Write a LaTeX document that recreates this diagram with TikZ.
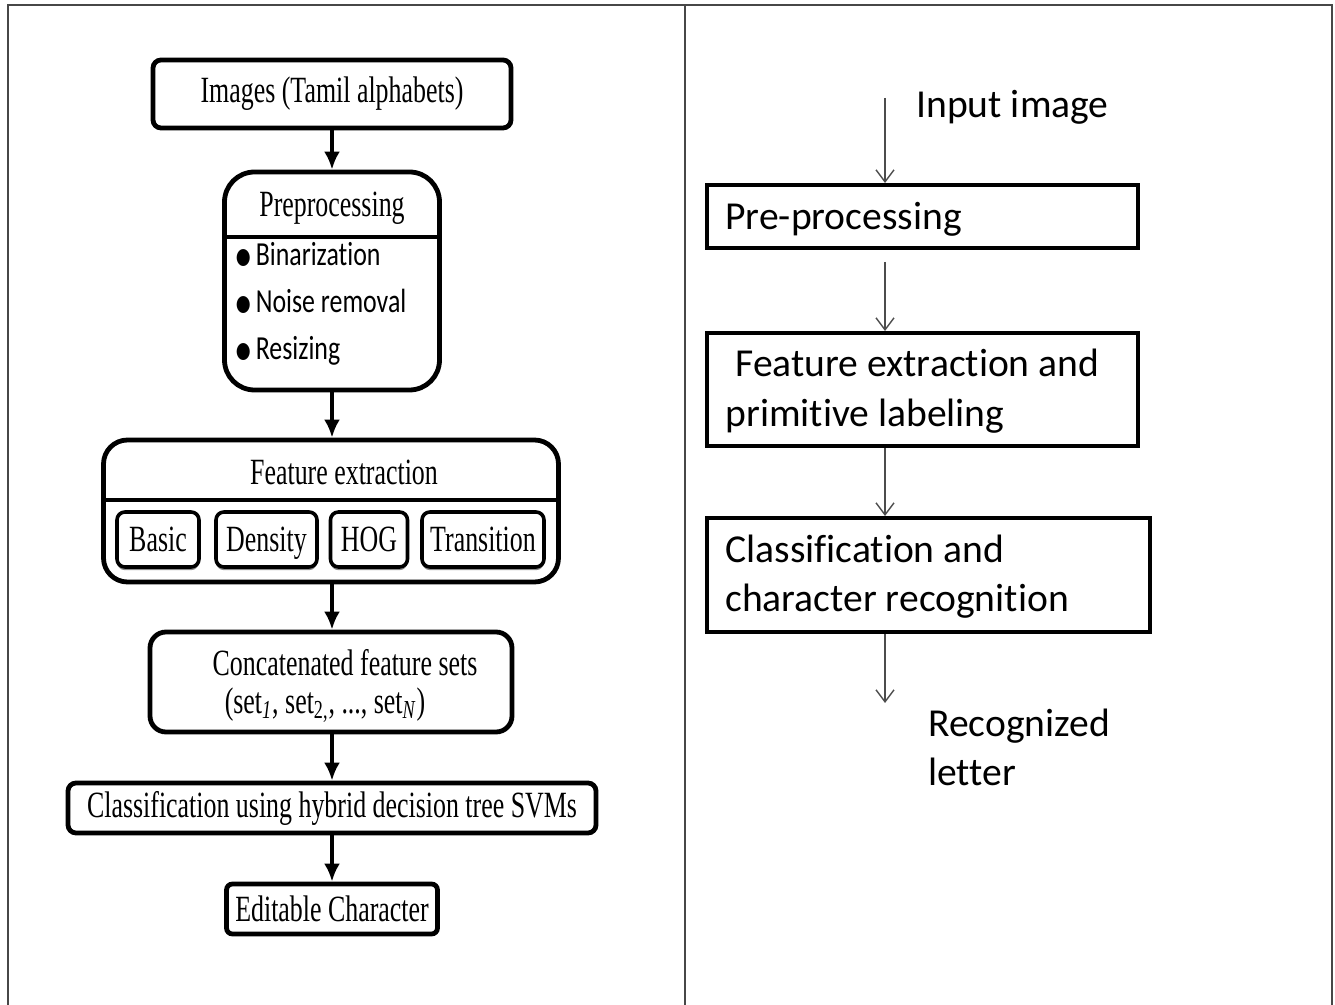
\documentclass[tikz,border=0pt]{standalone}
\usepackage{fontspec}
\setmainfont{Liberation Serif}
\newfontfamily\condserif[FakeStretch=0.7]{Liberation Serif}
\newfontfamily\condsans[FakeStretch=0.77,Ligatures=NoCommon]{Carlito}
\newfontfamily\rsans[Ligatures=NoCommon]{Carlito}
\newcommand\bigbul{\raisebox{-2.6pt}{\fontsize{24}{24}\selectfont\textbullet}\hspace{1.5pt}}
\usetikzlibrary{arrows.meta,shadows}
\begin{document}
\begin{tikzpicture}[x=0.5pt,y=-0.5pt,
  frame/.style={draw=black!72, line width=1.2pt},
  lbox/.style={draw, line width=2.4pt, rounded corners=4pt, inner sep=0pt},
  ltext/.style={inner sep=0pt, font=\condserif\fontsize{18.5}{21}\selectfont},
  ibox/.style={draw, fill=white, line width=1.8pt, rounded corners=4pt, inner sep=0pt,
    minimum height=27.5pt, text height=12.3pt, text depth=0pt,
    drop shadow={shadow xshift=0pt, shadow yshift=-1.6pt, opacity=0.45, fill=black},
    font=\condserif\fontsize{18.5}{21}\selectfont},
  bul/.style={inner sep=0pt, anchor=base west, font=\condsans\fontsize{16.8}{20}\selectfont},
  bigarrow/.style={line width=2pt, -{Latex[length=9pt,width=8pt]}},
  rbox/.style={draw, line width=2pt, inner sep=0pt},
  rtext/.style={inner sep=0pt, anchor=base west, font=\rsans\fontsize{19.8}{24}\selectfont},
  thinarrow/.style={draw=black!70, line width=0.7pt, -{Straight Barb[length=6pt,width=9pt]}}
]
\useasboundingbox (0,0) rectangle (1335,1005);
% outer frame
\draw[frame] (8,1005) -- (8,5) -- (1332,5) -- (1332,1005);
\draw[frame] (685,5) -- (685,1005);

% ---------- left flowchart ----------
\node[lbox, minimum width=179pt, minimum height=34pt, font=\condserif\fontsize{18.5}{21}\selectfont] (img) at (332,94) {Images (Tamil alphabets)};

\node[lbox, rounded corners=15pt, minimum width=107.5pt, minimum height=109pt] (pre) at (332,281) {};
\node[ltext] (pretitle) at (332,208) {Preprocessing};
\coordinate (pdiv) at (0,237);
\draw[line width=2.4pt] (pre.west |- pdiv) -- (pre.east |- pdiv);
\node[bul] (b1) at (234,266) {\bigbul Binarization};
\node[bul] (b2) at (234,313) {\bigbul Noise removal};
\node[bul] (b3) at (234,360) {\bigbul Resizing};

\node[lbox, rounded corners=12pt, minimum width=227.5pt, minimum height=71pt] (feat) at (331,511) {};
\node[ltext] (feattitle) at (344,472) {Feature extraction};
\coordinate (fdiv) at (0,500);
\draw[line width=2.4pt] (feat.west |- fdiv) -- (feat.east |- fdiv);
\node[ibox, minimum width=41pt] (basic) at (158,539.5) {Basic};
\node[ibox, minimum width=50.5pt] (dens) at (266.5,539.5) {Density};
\node[ibox, minimum width=38.5pt] (hog) at (369,539.5) {HOG};
\node[ibox, minimum width=61pt] (trans) at (483,539.5) {Transition};

\node[lbox, rounded corners=8pt, minimum width=181pt, minimum height=50pt] (conc) at (331,682) {};
\node[ltext] (conc1) at (345,663) {Concatenated feature sets};
\node[ltext] (conc2) at (325,705) {(set\textsubscript{\textit{1}}, set\textsubscript{2,}, ..., set\textsubscript{\textit{N}})};

\node[lbox, minimum width=264pt, minimum height=25pt, font=\condserif\fontsize{18.5}{21}\selectfont] (cls) at (332,808) {Classification using hybrid decision tree SVMs};
\node[lbox, rounded corners=3pt, minimum width=105.5pt, minimum height=25pt, font=\condserif\fontsize{18.5}{21}\selectfont] (edit) at (332,909) {Editable Character};

\draw[bigarrow] (img.south) -- (pre.north);
\draw[bigarrow] (pre.south) -- (pre.south |- feat.north);
\draw[bigarrow] (pre.south |- feat.south) -- (pre.south |- conc.north);
\draw[bigarrow] (pre.south |- conc.south) -- (cls.north);
\draw[bigarrow] (cls.south) -- (edit.north);

% ---------- right flowchart ----------
\node[rtext] (inp) at (916,118) {Input image};
\node[rbox, minimum width=215.5pt, minimum height=31.5pt] (pp) at (922.5,216.5) {};
\node[rtext] (pptext) at (725,230) {Pre-processing};
\node[rbox, minimum width=215.5pt, minimum height=56.5pt] (fe) at (922.5,389.5) {};
\node[rtext] (fe1) at (735,377) {Feature extraction and};
\node[rtext] (fe2) at (725,427) {primitive labeling};
\node[rbox, minimum width=221.5pt, minimum height=57pt] (cr) at (928.5,575) {};
\node[rtext] (cr1) at (725,563) {Classification and};
\node[rtext] (cr2) at (725,612) {character recognition};
\node[rtext] (rec1) at (928,737) {Recognized};
\node[rtext] (rec2) at (928,785) {letter};

\coordinate (in0) at (885,98);
\coordinate (out0) at (885,703);
\coordinate (ppo) at ([yshift=-6pt]pp.south);
\draw[thinarrow] (in0) -- (in0 |- pp.north);
\draw[thinarrow] (ppo -| in0) -- (in0 |- fe.north);
\draw[thinarrow] (in0 |- fe.south) -- (in0 |- cr.north);
\draw[thinarrow] (in0 |- cr.south) -- (out0);
\end{tikzpicture}
\end{document}
